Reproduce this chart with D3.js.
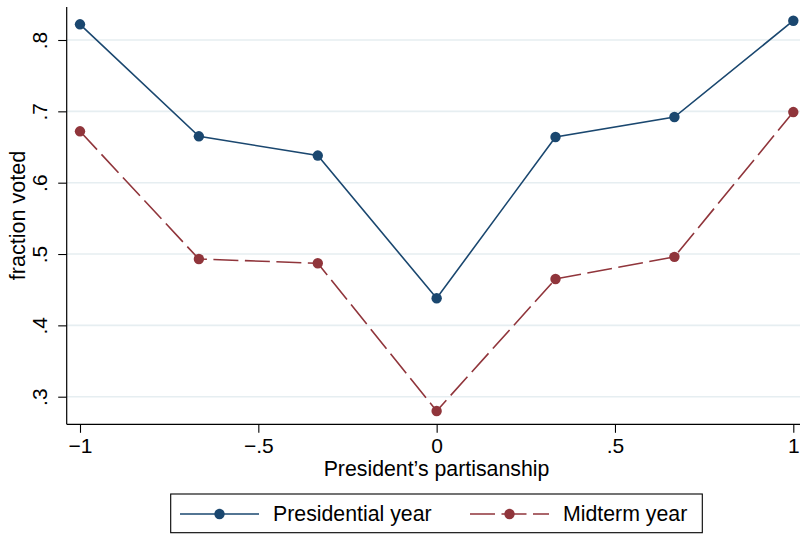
<!DOCTYPE html>
<html>
<head>
<meta charset="utf-8">
<script src="https://cdn.jsdelivr.net/npm/d3@7/dist/d3.min.js"></script>
<style>
  html, body { margin: 0; padding: 0; background: #fff; }
  svg { display: block; font-family: Helvetica, Arial, "Liberation Sans", sans-serif; }
</style>
</head>
<body>
<svg id="chart" width="801" height="534"></svg>
<script>
// President's partisanship (x) and fraction of eligible voters who voted
const partisanship = [-1, -0.6667, -0.3333, 0, 0.3333, 0.6667, 1];
const presidential = [0.822, 0.665, 0.638, 0.438, 0.664, 0.692, 0.827];
const midterm      = [0.672, 0.493, 0.487, 0.280, 0.465, 0.496, 0.699];
const xTicks = [-1, -0.5, 0, 0.5, 1];
const yTicks = [0.3, 0.4, 0.5, 0.6, 0.7, 0.8];
const seriesNames = ["Presidential year", "Midterm year"];

const navy = "#1a476f", maroon = "#90353b";
const svg = d3.select("#chart");

// plot region
const plot = { left: 66.7, right: 800, top: 7, bottom: 424.3 };

const x = d3.scaleLinear().domain([-1, 1]).range([80, 793.3]);
const y = d3.scaleLinear().domain([0.3, 0.8]).range([396.7, 40]);

const fmt = v => {
  if (v === 0) return "0";
  const s = String(Math.abs(v)).replace(/^0\./, ".");
  return (v < 0 ? "\u2212" : "") + s;
};

// horizontal grid lines
svg.append("g").selectAll("line").data(yTicks).join("line")
  .attr("x1", plot.left).attr("x2", plot.right)
  .attr("y1", d => y(d)).attr("y2", d => y(d))
  .attr("stroke", "#e6eef1").attr("stroke-width", 1.6);

// y axis
const yAxis = svg.append("g").attr("transform", `translate(${plot.left},0)`)
  .call(d3.axisLeft(y).tickValues(yTicks).tickSize(8.5).tickPadding(11).tickFormat(fmt));
yAxis.select(".domain").remove();
yAxis.append("line").attr("x1", 0).attr("x2", 0).attr("y1", plot.top).attr("y2", plot.bottom)
  .attr("stroke", "#000").attr("stroke-width", 1.2);
yAxis.selectAll(".tick line").attr("stroke", "#000").attr("stroke-width", 1.1);
yAxis.selectAll(".tick text")
  .attr("fill", "#000").attr("font-size", 21)
  .attr("x", null).attr("dy", null)
  .attr("text-anchor", "middle")
  .attr("transform", "translate(-19.2,0) rotate(-90)");

// x axis
const xAxis = svg.append("g").attr("transform", `translate(0,${plot.bottom})`)
  .call(d3.axisBottom(x).tickValues(xTicks).tickSize(8.5).tickPadding(6).tickFormat(fmt));
xAxis.select(".domain").remove();
xAxis.append("line").attr("x1", plot.left).attr("x2", plot.right).attr("y1", 0).attr("y2", 0)
  .attr("stroke", "#000").attr("stroke-width", 1.2);
xAxis.selectAll(".tick line").attr("stroke", "#000").attr("stroke-width", 1.1);
xAxis.selectAll(".tick text").attr("fill", "#000").attr("font-size", 21)
  .attr("dy", null).attr("y", 28.4);

// axis titles
svg.append("text").attr("x", 436.5).attr("y", 476)
  .attr("text-anchor", "middle").attr("font-size", 21.3)
  .text("President\u2019s partisanship");
svg.append("text").attr("transform", `translate(25,215.5) rotate(-90)`)
  .attr("text-anchor", "middle").attr("font-size", 21.6)
  .text("fraction voted");

// series
const series = [
  { name: seriesNames[0], values: presidential, color: navy, dash: null },
  { name: seriesNames[1], values: midterm, color: maroon, dash: "25,6.5" }
];
const line = d3.line().x(d => x(d[0])).y(d => y(d[1]));

series.forEach(s => {
  const pts = partisanship.map((p, i) => [p, s.values[i]]);
  svg.append("path").datum(pts)
    .attr("d", line).attr("fill", "none")
    .attr("stroke", s.color).attr("stroke-width", 1.6)
    .attr("stroke-dasharray", s.dash);
  svg.append("g").selectAll("circle").data(pts).join("circle")
    .attr("cx", d => x(d[0])).attr("cy", d => y(d[1])).attr("r", 5.2)
    .attr("fill", s.color);
});

// legend
const lg = svg.append("g");
lg.append("rect").attr("x", 170.7).attr("y", 494).attr("width", 531.6).attr("height", 38.7)
  .attr("fill", "#fff").attr("stroke", "#000").attr("stroke-width", 1.1);
const legendX = [180, 470];
series.forEach((s, i) => {
  const g = lg.append("g").attr("transform", `translate(${legendX[i]},514)`);
  g.append("line").attr("x1", 0).attr("x2", 79).attr("y1", 0).attr("y2", 0)
    .attr("stroke", s.color).attr("stroke-width", 1.6).attr("stroke-dasharray", s.dash);
  g.append("circle").attr("cx", 39.5).attr("cy", 0).attr("r", 5.2).attr("fill", s.color);
  g.append("text").attr("x", 93).attr("y", 6.8).attr("font-size", 21.3).text(s.name);
});
</script>
</body>
</html>
